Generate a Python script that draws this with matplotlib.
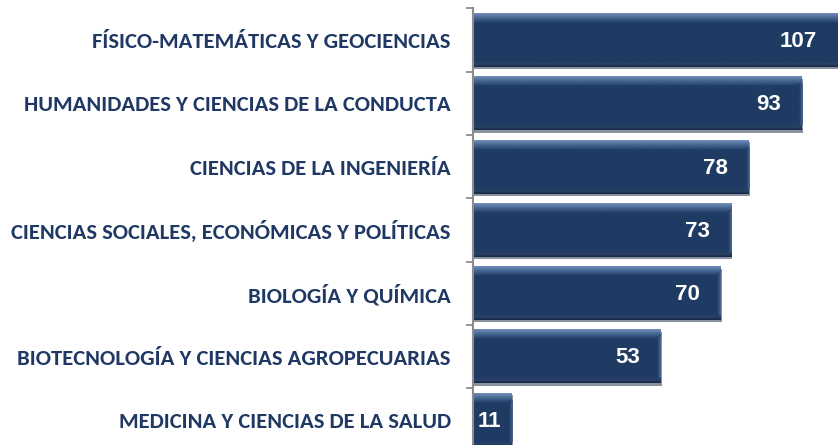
import numpy as np
import matplotlib
matplotlib.use("Agg")
import matplotlib.pyplot as plt
from matplotlib.colors import LinearSegmentedColormap

# areas del conocimiento y numero de registros
areas = [
    "FÍSICO-MATEMÁTICAS Y GEOCIENCIAS",
    "HUMANIDADES Y CIENCIAS DE LA CONDUCTA",
    "CIENCIAS DE LA INGENIERÍA",
    "CIENCIAS SOCIALES, ECONÓMICAS Y POLÍTICAS",
    "BIOLOGÍA Y QUÍMICA",
    "BIOTECNOLOGÍA Y CIENCIAS AGROPECUARIAS",
    "MEDICINA Y CIENCIAS DE LA SALUD",
]
totales = [107, 93, 78, 73, 70, 53, 11]

navy = "#1f3b63"
label_color = "#1f3864"
xmax = 103.2
bar_h = 0.85

fig = plt.figure(figsize=(8.38, 4.45), dpi=100)
ax = fig.add_axes([473 / 838, -6.5 / 445, 365 / 838, 443 / 445])

y = np.arange(len(areas))

# sombra gris detras de cada barra
ax.barh(y + 0.035, totales, height=bar_h, left=0.35, color="#8a929e", zorder=1)
bars = ax.barh(y, totales, height=bar_h, color=navy, zorder=2)

# bisel: degradado vertical dentro de cada barra
bevel = LinearSegmentedColormap.from_list(
    "bevel",
    [(0.0, "#6f8db8"), (0.10, "#3f5f8a"), (0.18, navy), (0.90, navy),
     (0.95, "#2b4366"), (1.0, "#15294a")])
grad = np.linspace(0, 1, 100).reshape(-1, 1)
for yi, v in zip(y, totales):
    ax.imshow(grad, cmap=bevel, aspect="auto", zorder=3,
              extent=(0, v, yi + bar_h / 2, yi - bar_h / 2))
    # borde derecho un poco mas claro
    ax.imshow(np.linspace(0, 1, 10).reshape(1, -1), cmap=LinearSegmentedColormap.from_list(
        "r", [navy, "#4a6890"]), aspect="auto", zorder=3,
        extent=(v - 0.9, v, yi + bar_h / 2 - 0.08, yi - bar_h / 2 + 0.12))

# etiquetas de valor dentro del extremo de la barra
for yi, v in zip(y, totales):
    off = -15 if v > 20 else -8  # en puntos
    ax.annotate(str(v), xy=(min(v, xmax), yi), xytext=(off, -1),
                textcoords="offset points", ha="right", va="center",
                color="white", fontsize=16, fontweight="bold",
                family=["Liberation Sans", "DejaVu Sans"], zorder=5)

ax.set_xlim(0, xmax)
ax.set_ylim(len(areas) - 0.5, -0.5)

ax.set_yticks(np.arange(len(areas) + 1) - 0.5)
ax.set_yticklabels([])
ax.set_yticks(y, minor=True)
ax.set_yticklabels(areas, minor=True)
ax.tick_params(axis="y", which="major", direction="out", length=5,
               width=1.3, color="#8c8c8c")
ax.tick_params(axis="y", which="minor", length=0, pad=16)
for lbl in ax.get_yticklabels(minor=True):
    lbl.set_color(label_color)
    lbl.set_fontweight("bold")
    lbl.set_fontsize(16.3)
    lbl.set_family(["Carlito", "DejaVu Sans"])

ax.set_xticks([])
for s in ["top", "right", "bottom"]:
    ax.spines[s].set_visible(False)
ax.spines["left"].set_color("#8c8c8c")
ax.spines["left"].set_linewidth(1.5)
ax.spines["left"].set_zorder(6)

fig.savefig("out.png", dpi=100)
